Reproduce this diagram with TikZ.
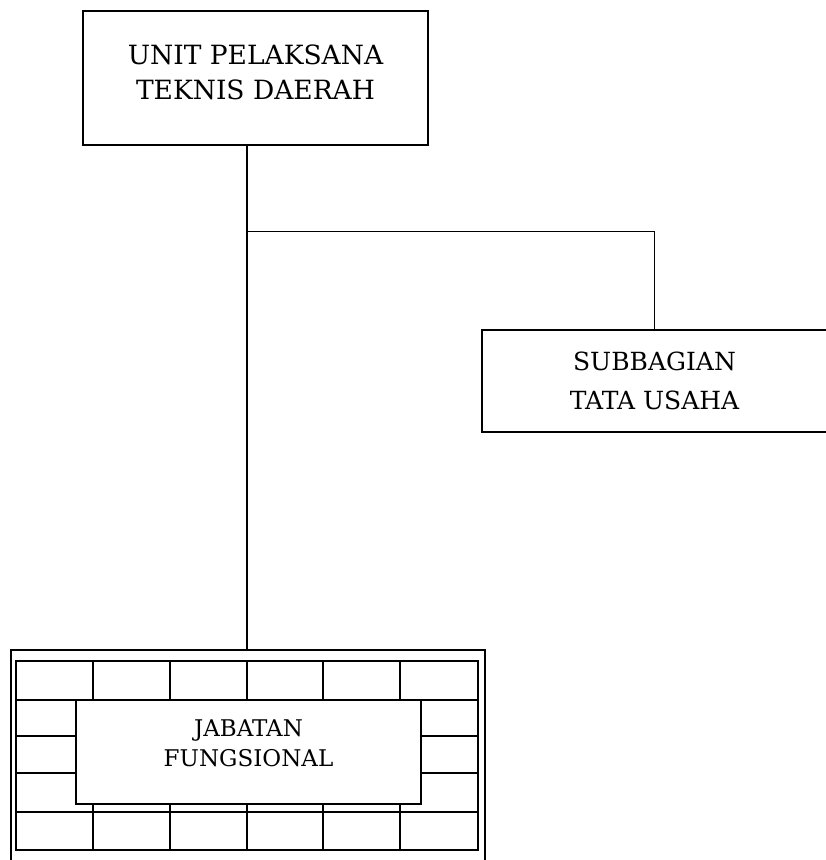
\documentclass[tikz,border=0pt]{standalone}
\usepackage{fontspec}
\setmainfont{DejaVu Serif}
\usepackage{tikz}
\usepackage{xcolor}

\tikzset{
    orgbox/.style={draw, line width=1.8pt, align=center, inner sep=0pt, fill=white},
    gridline/.style={line width=1.3pt},
    link/.style={line width=1.4pt}
}

\begin{document}
\begin{tikzpicture}[x=1pt, y=-1pt]
    \useasboundingbox (0,0) rectangle (826,860);

    % Top unit
    \node[orgbox, minimum width=345pt, minimum height=134pt, text depth=12pt,
          font=\fontsize{26.5}{35}\selectfont] (upt) at (255.5,78) {UNIT PELAKSANA\\TEKNIS DAERAH};

    % Subbagian
    \node[orgbox, minimum width=345pt, minimum height=102pt,
          font=\fontsize{25}{39}\selectfont] (tu) at (654.5,381) {SUBBAGIAN\\TATA USAHA};

    % Jabatan fungsional frame
    \node[draw, line width=1.6pt, minimum width=474pt, minimum height=220pt] (frame) at (247.75,760) {};
    \draw[gridline] (16,661) rectangle (478,850);
    \foreach \x in {93,170,247,323,400}
        \draw[gridline] (\x,661) -- (\x,850);
    \foreach \y in {700,736,773,812}
        \draw[gridline] (16,\y) -- (478,\y);
    \node[orgbox, minimum width=345pt, minimum height=104pt, text depth=18pt,
          font=\fontsize{23}{30}\selectfont] (jf) at (248.5,752) {JABATAN\\FUNGSIONAL};

    % Connectors
    \coordinate (jn) at (247,231.5);
    \draw[link] (upt.south -| jn) -- (frame.north -| jn);
    \draw[link] (jn) -| (tu.north);
\end{tikzpicture}
\end{document}
